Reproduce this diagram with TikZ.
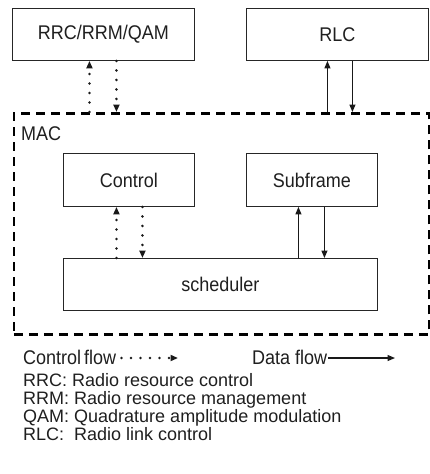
\documentclass[tikz,border=0pt]{standalone}
\usepackage{fontspec}
\usepackage{graphicx}
\setmainfont{Liberation Sans}
\usetikzlibrary{arrows.meta}
\newcommand\vst[1]{\scalebox{1}[1.1]{#1}}
\begin{document}
\begin{tikzpicture}[x=1pt,y=-1pt,
  every node/.style={font=\fontsize{18}{17.7}\selectfont, text=black!88, inner sep=0pt},
  blk/.style={draw=black!85, line width=0.9pt, rectangle, anchor=north west},
  tip/.style={-{Triangle[length=7.5pt,width=6pt]}},
  ctrl/.style={tip, line width=2.8pt, line cap=round, dash pattern=on 0pt off 9.5pt, black!90},
  data/.style={tip, line width=1.2pt, black!90},
  macbox/.style={draw=black, line width=2.8pt, dash pattern=on 9pt off 6pt, rectangle, anchor=north west},
  defline/.style={anchor=base west}]
\useasboundingbox (0,0) rectangle (429,474);
% boxes
\node[blk, minimum width=182pt, minimum height=52pt] (rrc) at (12,8) {\vst{RRC/RRM/QAM}};
\node[blk, minimum width=182pt, minimum height=52pt] (rlc) at (246,8) {\vst{RLC}};
\node[macbox, minimum width=415pt, minimum height=221pt] (mac) at (12.5,112) {};
\node[anchor=base west] (maclbl) at (21,140) {\vst{MAC}};
\node[blk, minimum width=131pt, minimum height=53pt] (ctl) at (63,153) {\vst{Control}};
\node[blk, minimum width=131pt, minimum height=53pt] (sub) at (246,153) {\vst{Subframe}};
\node[blk, minimum width=314pt, minimum height=52pt] (sch) at (63,258) {\vst{scheduler}};
% connector anchors
\coordinate (a1) at ([xshift=-14pt]rrc.south);
\coordinate (a2) at ([xshift=13pt]rrc.south);
\coordinate (b1) at ([xshift=-10pt]rlc.south);
\coordinate (b2) at ([xshift=15pt]rlc.south);
\coordinate (c1) at ([xshift=-12.5pt]ctl.south);
\coordinate (c2) at ([xshift=13.5pt]ctl.south);
\coordinate (d1) at ([xshift=-13.5pt]sub.south);
\coordinate (d2) at ([xshift=12.5pt]sub.south);
\draw[ctrl] (a1 |- mac.north) -- (a1);
\draw[ctrl] (a2) -- (a2 |- mac.north);
\draw[data] (b1 |- mac.north) -- (b1);
\draw[data] (b2) -- (b2 |- mac.north);
\draw[ctrl] (c1 |- sch.north) -- (c1);
\draw[ctrl] (c2) -- (c2 |- sch.north);
\draw[data] (d1 |- sch.north) -- (d1);
\draw[data] (d2) -- (d2 |- sch.north);
% legend
\node[anchor=base west] (cf) at (23,364) {\vst{Control\,flow}};
\node[anchor=base west] (df) at (252,364) {\vst{Data flow}};
\coordinate (cfe) at (178,358);
\coordinate (dfe) at (395,358);
\draw[ctrl] ([xshift=5pt]cf.east |- cfe) -- (cfe);
\draw[data] ([xshift=1pt]df.east |- dfe) -- (dfe);
\node[defline] (d1t) at (23,386) {RRC: Radio resource control};
\node[defline] (d2t) at (23,404) {RRM: Radio resource management};
\node[defline] (d3t) at (23,422) {QAM: Quadrature amplitude modulation};
\node[defline] (d4t) at (23,440) {RLC:\ \ Radio link control};
\end{tikzpicture}
\end{document}
